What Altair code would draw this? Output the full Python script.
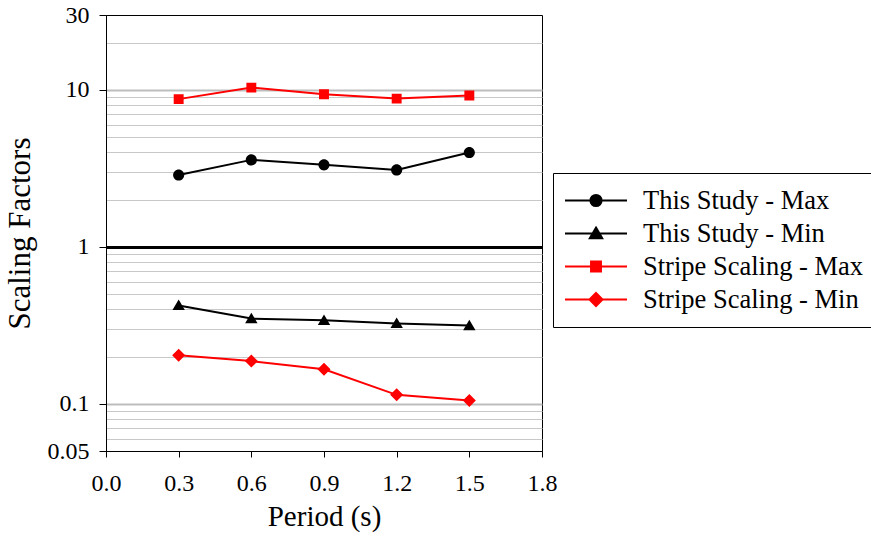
import altair as alt
import pandas as pd

# Periods (s) at which the scaling factors were evaluated
periods = [0.3, 0.6, 0.9, 1.2, 1.5]

series_names = [
    "This Study - Max",
    "This Study - Min",
    "Stripe Scaling - Max",
    "Stripe Scaling - Min",
]
series_colors = ["#000000", "#000000", "#FF0000", "#FF0000"]

study_max = [2.87, 3.58, 3.33, 3.09, 3.99]
study_min = [0.423, 0.349, 0.340, 0.325, 0.315]
stripe_max = [8.73, 10.34, 9.39, 8.80, 9.20]
stripe_min = [0.204, 0.187, 0.166, 0.114, 0.105]

# Axis ticks
x_ticks = [0.0, 0.3, 0.6, 0.9, 1.2, 1.5, 1.8]
y_labels = [0.05, 0.1, 1, 10, 30]
y_grid = ([0.05, 0.06, 0.07, 0.08, 0.09]
          + [0.1, 0.2, 0.3, 0.4, 0.5, 0.6, 0.7, 0.8, 0.9]
          + [1, 2, 3, 4, 5, 6, 7, 8, 9]
          + [10, 20, 30])

values = [study_max, study_min, stripe_max, stripe_min]
rows = []
for name, col, vals in zip(series_names, series_colors, values):
    for p, v in zip(periods, vals):
        rows.append({"period": p, "factor": v, "series": name, "line_color": col})
df = pd.DataFrame(rows)

# Marker shapes: a horizontal segment (only visible when stroked, i.e. in the
# legend) plus the filled marker itself.
seg = "M-1,0L1,0"
shape_paths = [
    seg + "M0.18,0A0.18,0.18 0 1,1 -0.18,0A0.18,0.18 0 1,1 0.18,0Z",
    seg + "M0,-0.19L0.2,0.15L-0.2,0.15Z",
    seg + "M-0.16,-0.16L0.16,-0.16L0.16,0.16L-0.16,0.16Z",
    seg + "M0,-0.21L0.21,0L0,0.21L-0.21,0Z",
]

FONT = "Liberation Serif"

color_scale = alt.Scale(domain=series_names, range=series_colors)
shape_scale = alt.Scale(domain=series_names, range=shape_paths)

legend = alt.Legend(
    title=None,
    orient="none",
    legendX=447,
    legendY=158,
    direction="vertical",
    padding=11,
    strokeColor="black",
    fillColor="white",
    labelFont=FONT,
    labelFontSize=26.5,
    labelColor="black",
    labelOffset=15,
    labelLimit=400,
    symbolSize=3844,
    clipHeight=33,
    rowPadding=0,
    symbolStrokeWidth=2,
    symbolOpacity=1,
)

label_list = ",".join(str(v) for v in y_labels)
is_label = f"indexof([{label_list}], datum.value) >= 0"
is_decade = "datum.value == 10 || datum.value == 0.1"
is_one = "datum.value == 1"
is_edge = "datum.value == 0.05 || datum.value == 30"

x_enc = alt.X(
    "period:Q",
    scale=alt.Scale(domain=[0, 1.8], nice=False, zero=False),
    axis=alt.Axis(
        title="Period (s)",
        values=x_ticks,
        format=".1f",
        grid=False,
        tickSize=6,
        tickColor="black",
        domainColor="black",
        labelFont=FONT,
        labelFontSize=24,
        labelColor="black",
        labelPadding=14,
        labelFlush=False,
        titleFont=FONT,
        titleFontSize=29,
        titleFontWeight="normal",
        titleColor="black",
        titlePadding=7,
    ),
)

y_enc = alt.Y(
    "factor:Q",
    scale=alt.Scale(type="log", domain=[0.05, 30], nice=False),
    axis=alt.Axis(
        title="Scaling Factors",
        values=y_grid,
        labelExpr=f"{is_label} ? format(datum.value, '~g') : ''",
        grid=True,
        gridColor={"condition": [{"test": is_one, "value": "#000000"},
                                 {"test": is_decade, "value": "#bdbdbd"}],
                   "value": "#c8c8c8"},
        gridWidth={"condition": [{"test": is_one, "value": 3},
                                 {"test": is_decade, "value": 2}],
                   "value": 1},
        gridOpacity={"condition": {"test": is_edge, "value": 0}, "value": 1},
        tickOpacity={"condition": {"test": is_label, "value": 1}, "value": 0},
        tickSize=7,
        tickColor="black",
        domainColor="black",
        labelFont=FONT,
        labelFontSize=24,
        labelColor="black",
        labelPadding=10,
        labelFlush=False,
        labelOverlap=False,
        titleFont=FONT,
        titleFontSize=31,
        titleFontWeight="normal",
        titleColor="black",
        titlePadding=11,
    ),
)

# Connecting lines take their colour straight from the data (no scale, no legend)
lines = alt.Chart(df).mark_line(strokeWidth=2).encode(
    x=x_enc,
    y=y_enc,
    stroke=alt.Stroke("line_color:N", scale=None),
    detail="series:N",
)

points = alt.Chart(df).mark_point(filled=True, opacity=1, strokeWidth=0).encode(
    x=x_enc,
    y=y_enc,
    fill=alt.Fill("series:N", scale=color_scale, legend=legend),
    stroke=alt.Stroke("series:N", scale=color_scale, legend=legend),
    shape=alt.Shape("series:N", scale=shape_scale, legend=legend),
    size=alt.value(3844),
)

chart = alt.layer(lines, points).properties(
    width=436,
    height=436,
    autosize=alt.AutoSizeParams(type="none"),
    padding={"left": 106, "top": 15, "right": 329, "bottom": 91},
    background="white",
).configure_view(
    stroke="black",
    strokeWidth=1,
)

chart.save("out.html", embed_options={"renderer": "svg", "actions": False})
